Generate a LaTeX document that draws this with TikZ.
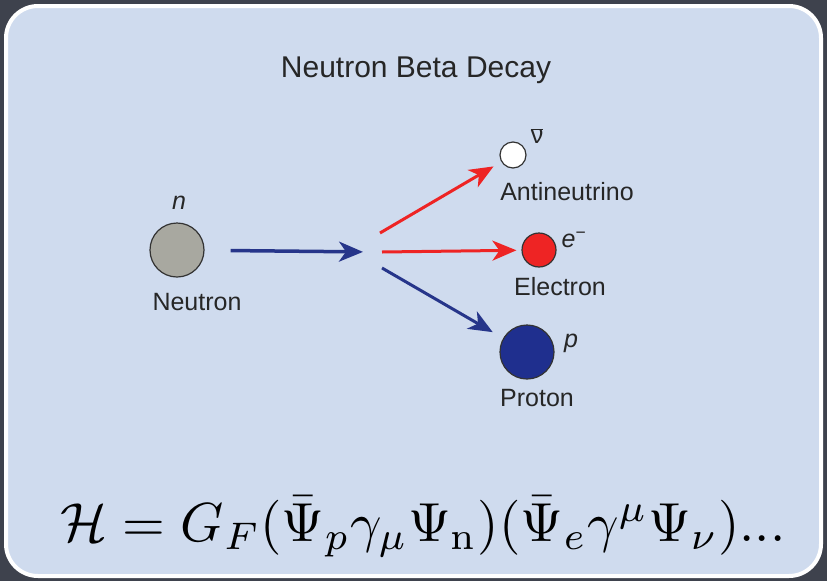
\documentclass[tikz,border=0pt]{standalone}
\usepackage{fontspec}
\usepackage{graphicx}
\usepackage{tikz}
\usetikzlibrary{arrows.meta}
\newfontfamily\arialfont{Liberation Sans}
\definecolor{slate}{HTML}{3E424D}
\definecolor{paleblue}{HTML}{CFDBEE}
\definecolor{darkblue}{HTML}{26358A}
\definecolor{brightred}{HTML}{EE2424}
\definecolor{neutgray}{HTML}{A8A8A0}
\definecolor{protblue}{HTML}{1F2F8E}
\begin{document}
\begin{tikzpicture}[x=1pt,y=-1pt,
  particle/.style={circle,draw=black!80,line width=1.2pt,inner sep=0pt},
  lbl/.style={font=\arialfont\fontsize{25}{27}\selectfont,text=black!85},
  sym/.style={font=\arialfont\itshape\fontsize{25}{27}\selectfont,text=black!85},
  decay/.style={line width=3.5pt,-{Stealth[length=24pt,width=20pt,inset=7pt]}}]
\useasboundingbox (0,0) rectangle (827,581);
\fill[slate] (0,0) rectangle (827,581);
\draw[white,line width=4pt,fill=paleblue,rounded corners=32pt] (6,6) rectangle (821,576);
\node[font=\arialfont\fontsize{30}{32}\selectfont,text=black!85] (title) at (416,70) {Neutron Beta Decay};
% particles
\node[particle,fill=neutgray,minimum size=54pt] (neutron) at (177,250) {};
\node[particle,fill=white,minimum size=26pt] (anu) at (513,155) {};
\node[particle,fill=brightred,minimum size=34pt] (elec) at (539,250) {};
\node[particle,fill=protblue,minimum size=54pt] (prot) at (527,352) {};
\node[sym] (nsym) at (179,203) {n};
\node[lbl] (nname) at (197,302) {Neutron};
\node[lbl] (anusym) at (537,136) {\(\overline{\mbox{ν}}\)};
\node[lbl] (anuname) at (567,192) {Antineutrino};
\node[sym] (esym) at (574,240) {e\textsuperscript{\upshape −}};
\node[lbl] (ename) at (560,287) {Electron};
\node[sym] (psym) at (571,343) {p};
\node[lbl] (pname) at (537,398) {Proton};
% arrows
\coordinate (vtx) at (373,252);
\coordinate (nustart) at (380,233);
\coordinate (estart) at (382,252);
\coordinate (pstart) at (382,268);
\draw[decay,darkblue,shorten <=26pt,shorten >=10pt] (neutron) -- (vtx);
\draw[decay,brightred,line width=3pt,shorten >=9pt] (nustart) -- (anu);
\draw[decay,brightred,line width=3pt,shorten >=5pt] (estart) -- (elec);
\draw[decay,darkblue,line width=3pt,shorten >=12pt] (pstart) -- (prot);
\node[inner sep=0pt] (ham) at (423,527) {\scalebox{5.5}{$\mathcal{H} = G_F(\bar{\Psi}_p\gamma_\mu\Psi_{\mathrm{n}})(\bar{\Psi}_e\gamma^\mu\Psi_\nu)...$}};
\end{tikzpicture}
\end{document}
